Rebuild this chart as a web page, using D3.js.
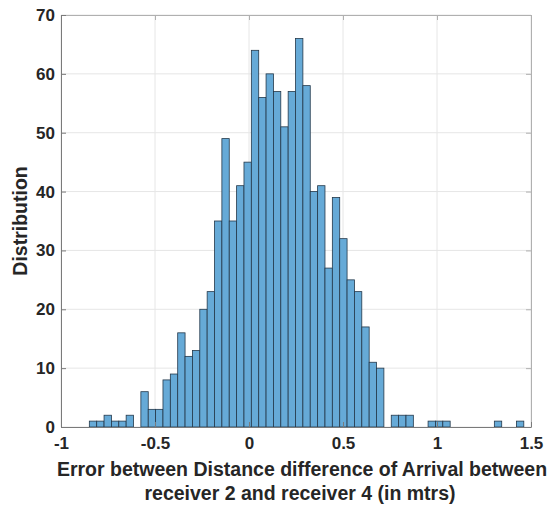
<!DOCTYPE html>
<html lang="en">
<head>
<meta charset="UTF-8">
<title>Distribution of error</title>
<script src="https://d3js.org/d3.v7.min.js"></script>
<style>
  body { margin: 0; background: #fff; }
  text { font-family: "Liberation Sans", Arial, sans-serif; font-weight: bold; fill: #262626; }
</style>
</head>
<body>
<div id="chart"></div>
<script>
// histogram bins (first left edge and bin width) and counts per bin
const binStart = -0.8493;
const binWidth = 0.03917;
const counts = [1, 1, 2, 1, 1, 2, 0, 6, 3, 3, 8, 9, 16, 12, 13, 20, 23, 35, 49, 35,
                41, 45, 64, 56, 60, 57, 51, 57, 66, 58, 40, 41, 27, 39, 32, 25, 23, 17, 11, 10,
                0, 2, 2, 2, 0, 0, 1, 1, 1, 0, 0, 0, 0, 0, 0, 1, 0, 0, 1];
const xTicks = [-1, -0.5, 0, 0.5, 1, 1.5];
const yTicks = [0, 10, 20, 30, 40, 50, 60, 70];

let width = 547,
    height = 508,
    margin = {top: 15, right: 16, bottom: 81, left: 61};

let svg = d3.select("#chart")
  .append("svg")
    .attr("width", width)
    .attr("height", height);

let x = d3.scaleLinear().domain([-1, 1.5]).range([margin.left, width - margin.right]);
let y = d3.scaleLinear().domain([0, 70]).range([height - margin.bottom, margin.top]);

let bins = counts.map((c, i) => ({x0: binStart + i * binWidth, x1: binStart + (i + 1) * binWidth, n: c}));

// grid
svg.append("g")
  .selectAll("line.gx")
  .data(xTicks)
  .enter().append("line")
    .attr("x1", d => x(d)).attr("x2", d => x(d))
    .attr("y1", y(0)).attr("y2", y(70))
    .attr("stroke", "#e6e6e6").attr("stroke-width", 1);
svg.append("g")
  .selectAll("line.gy")
  .data(yTicks)
  .enter().append("line")
    .attr("x1", x(-1)).attr("x2", x(1.5))
    .attr("y1", d => y(d)).attr("y2", d => y(d))
    .attr("stroke", "#e6e6e6").attr("stroke-width", 1);

// bars
svg.append("g")
  .selectAll("rect")
  .data(bins.filter(b => b.n > 0))
  .enter().append("rect")
    .attr("x", d => x(d.x0))
    .attr("width", d => x(d.x1) - x(d.x0))
    .attr("y", d => y(d.n))
    .attr("height", d => y(0) - y(d.n))
    .attr("fill", "#66aad7")
    .attr("stroke", "#24384a")
    .attr("stroke-width", 0.8);

// box: top/right axes without labels, ticks inward
svg.append("g")
  .attr("transform", "translate(0," + y(70) + ")")
  .call(d3.axisTop(x).tickValues(xTicks).tickSizeInner(-5).tickSizeOuter(0).tickFormat(""))
  .call(g => g.selectAll("line, path").attr("stroke", "#b0b0b0"));
svg.append("g")
  .attr("transform", "translate(" + x(1.5) + ",0)")
  .call(d3.axisRight(y).tickValues(yTicks).tickSizeInner(-5).tickSizeOuter(0).tickFormat(""))
  .call(g => g.selectAll("line, path").attr("stroke", "#b0b0b0"));

// bottom axis
let xAxis = svg.append("g")
  .attr("transform", "translate(0," + y(0) + ")")
  .call(d3.axisBottom(x).tickValues(xTicks).tickSizeInner(-5).tickSizeOuter(0).tickPadding(10).tickFormat(d => String(d)));
xAxis.selectAll("line, path").attr("stroke", "#7a7a7a");
xAxis.selectAll("text").style("font-size", "17px").attr("fill", "#262626");

// left axis
let yAxis = svg.append("g")
  .attr("transform", "translate(" + x(-1) + ",0)")
  .call(d3.axisLeft(y).tickValues(yTicks).tickSizeInner(-5).tickSizeOuter(0).tickPadding(6));
yAxis.selectAll("line, path").attr("stroke", "#7a7a7a");
yAxis.selectAll("text").style("font-size", "17px").attr("fill", "#262626");

// axis labels
svg.append("text")
  .attr("x", 302)
  .attr("y", 476)
  .attr("text-anchor", "middle")
  .style("font-size", "19.5px")
  .text("Error between Distance difference of Arrival between");
svg.append("text")
  .attr("x", 300)
  .attr("y", 500)
  .attr("text-anchor", "middle")
  .style("font-size", "19.5px")
  .text("receiver 2 and receiver 4 (in mtrs)");
svg.append("text")
  .attr("transform", "translate(27," + (y(35)) + ") rotate(-90)")
  .attr("text-anchor", "middle")
  .style("font-size", "19.5px")
  .text("Distribution");
</script>
</body>
</html>
